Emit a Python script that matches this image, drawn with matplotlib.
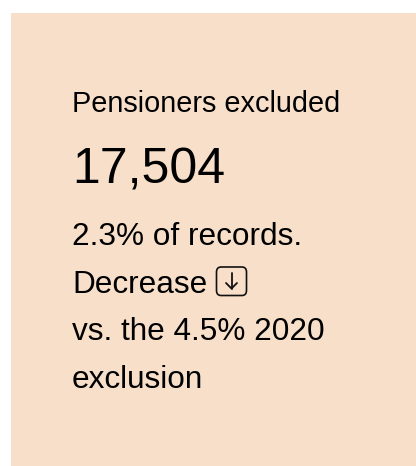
import matplotlib
matplotlib.use("Agg")
import matplotlib.pyplot as plt
from matplotlib.patches import Rectangle, FancyBboxPatch
from matplotlib.lines import Line2D

W, H = 416, 466
DPI = 100

title = "Pensioners excluded"
value = 17504
body_lines = ["2.3% of records.", "Decrease", "vs. the 4.5% 2020", "exclusion"]

bg = "#F7DFCA"
plt.rcParams['font.family'] = ['Liberation Sans', 'DejaVu Sans']


def fx(px):
    return px / W


def fy(py):
    # pixel from top -> figure fraction from bottom
    return 1 - py / H


fig = plt.figure(figsize=(W / DPI, H / DPI), dpi=DPI)
fig.patch.set_facecolor("white")

# card background
fig.patches.append(Rectangle((fx(11), 0), 1 - fx(11), fy(13), transform=fig.transFigure,
                             facecolor=bg, edgecolor="none"))

left = 72
fig.text(fx(left), fy(112), title, fontsize=20.8, va="baseline", ha="left", color="black")
fig.text(fx(left), fy(183), f"{value:,}", fontsize=36, va="baseline", ha="left", color="black")

baselines = [245, 293, 340, 388]
for line, b in zip(body_lines, baselines):
    fig.text(fx(left), fy(b), line, fontsize=22.7, va="baseline", ha="left", color="black")

# little down-arrow badge after "Decrease"
fig.patches.append(FancyBboxPatch((fx(216.5), fy(295.5)), fx(30), 28.5 / H,
                                  boxstyle="round,pad=0,rounding_size=0.011",
                                  transform=fig.transFigure, facecolor="none",
                                  edgecolor="#111111", linewidth=1.2))
ax_x = 231.5
fig.lines.append(Line2D([fx(ax_x), fx(ax_x)], [fy(272.5), fy(288.5)], transform=fig.transFigure,
                        color="#111111", linewidth=1.3, solid_capstyle="round"))
fig.lines.append(Line2D([fx(ax_x - 5.5), fx(ax_x), fx(ax_x + 5.5)], [fy(283), fy(288.5), fy(283)],
                        transform=fig.transFigure, color="#111111", linewidth=1.3,
                        solid_capstyle="round", solid_joinstyle="round"))

fig.savefig("out.png", dpi=DPI)
